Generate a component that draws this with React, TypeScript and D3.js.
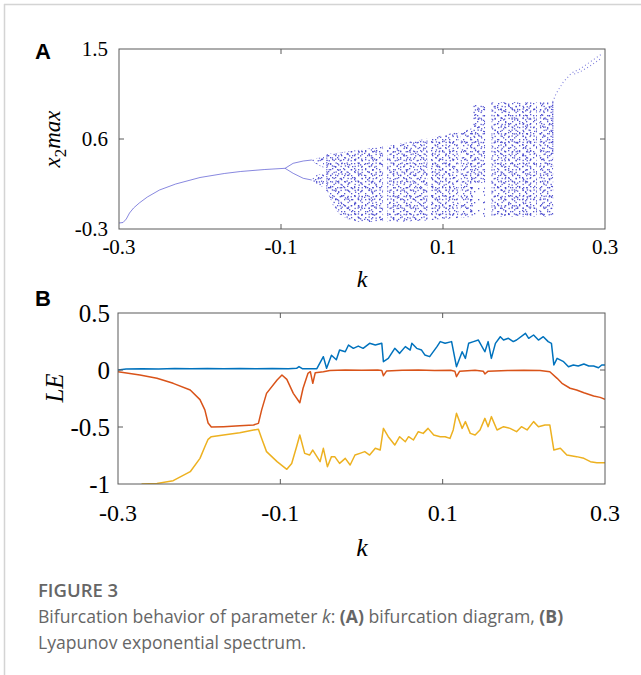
import React from "react";
import * as d3 from "d3";

// axis ticks
const kTicks = [-0.3, -0.1, 0.1, 0.3];
const x2Ticks = [-0.3, 0.6, 1.5];
const leTicks = [-1, -0.5, 0, 0.5];

// ---- panel A: bifurcation diagram ----
// single branch [k, x2max]
const period1 = [
  [-0.3, -0.24], [-0.295, -0.235], [-0.291, -0.2], [-0.287, -0.14], [-0.282, -0.09],
  [-0.275, -0.04], [-0.265, 0.02], [-0.25, 0.09], [-0.23, 0.15], [-0.2, 0.215],
  [-0.17, 0.255], [-0.15, 0.275], [-0.12, 0.295], [-0.095, 0.307],
];
// period-2 branches
const period2Up = [[-0.095, 0.307], [-0.085, 0.357], [-0.0725, 0.38], [-0.062, 0.39]];
const period2Lo = [[-0.095, 0.307], [-0.085, 0.257], [-0.0725, 0.207], [-0.062, 0.19]];
// sparse branch after the crisis, two strands
const tailA = [[0.2354, 0.97], [0.24, 1.06], [0.2486, 1.17], [0.2588, 1.26], [0.269, 1.3], [0.2815, 1.37], [0.296, 1.45]];
const tailB = [[0.262, 1.25], [0.269, 1.27], [0.2815, 1.33], [0.296, 1.41]];
// dense vertical edges of the chaotic bands
const edges = [
  [[-0.0435, 0.08], [-0.0435, 0.45]],
  [[0.2355, 0.45], [0.2355, 0.97]],
];

// chaotic bands [k, low, high]
const bandsSmall = [
  [[-0.062, 0.383, 0.397], [-0.056, 0.35, 0.41], [-0.047, 0.31, 0.42]],
  [[-0.062, 0.183, 0.197], [-0.056, 0.14, 0.24], [-0.047, 0.12, 0.26]],
];
const bandsChaos = [
  [[-0.043, 0.08, 0.45], [-0.036, -0.06, 0.455], [-0.028, -0.15, 0.465], [-0.018, -0.2, 0.475], [-0.005, -0.23, 0.49], [0.026, -0.23, 0.525]],
  [[0.031, -0.23, 0.53], [0.055, -0.225, 0.565], [0.081, -0.215, 0.605]],
  [[0.084, -0.21, 0.61], [0.119, -0.19, 0.67]],
  [[0.122, -0.185, 0.675], [0.137, -0.18, 0.71]],
  [[0.137, 0.16, 0.94], [0.152, 0.16, 0.94]],
  [[0.16, -0.18, 0.97], [0.216, -0.18, 0.97]],
  [[0.219, -0.18, 0.97], [0.236, -0.18, 0.97]],
];
const bandsSparse = [
  [[0.137, -0.18, 0.16], [0.152, -0.18, 0.16]],
];

// ---- panel B: Lyapunov exponents [k, LE] ----
const le1 = [
  [-0.3, 0.0], [-0.29, 0.008], [-0.27, 0.012], [-0.25, 0.009], [-0.23, 0.013], [-0.21, 0.01],
  [-0.19, 0.013], [-0.17, 0.01], [-0.15, 0.013], [-0.13, 0.01], [-0.11, 0.013], [-0.09, 0.012],
  [-0.08, 0.015], [-0.077, 0.03], [-0.073, 0.012], [-0.06, 0.012], [-0.055, 0.012], [-0.047, 0.117],
  [-0.043, 0.015], [-0.037, 0.13], [-0.031, 0.09], [-0.027, 0.175], [-0.02, 0.16], [-0.016, 0.219],
  [-0.01, 0.19], [-0.004, 0.21], [0.002, 0.19], [0.01, 0.234], [0.017, 0.219], [0.025, 0.234],
  [0.027, 0.073], [0.033, 0.102], [0.041, 0.19], [0.047, 0.146], [0.054, 0.205], [0.06, 0.175],
  [0.062, 0.234], [0.068, 0.19], [0.074, 0.175], [0.078, 0.132], [0.084, 0.117], [0.093, 0.205],
  [0.097, 0.249], [0.103, 0.234], [0.111, 0.249], [0.117, 0.029], [0.124, 0.16], [0.128, 0.102],
  [0.132, 0.234], [0.138, 0.249], [0.144, 0.263], [0.152, 0.16], [0.156, 0.249], [0.16, 0.102],
  [0.165, 0.234], [0.171, 0.292], [0.175, 0.263], [0.181, 0.278], [0.187, 0.249], [0.191, 0.263],
  [0.202, 0.322], [0.206, 0.278], [0.212, 0.307], [0.218, 0.263], [0.224, 0.292], [0.23, 0.249],
  [0.234, 0.234], [0.237, 0.044], [0.241, 0.102], [0.249, 0.073], [0.255, 0.029], [0.261, 0.044],
  [0.267, 0.035], [0.274, 0.053], [0.28, 0.035], [0.286, 0.035], [0.292, 0.02], [0.296, 0.044],
  [0.3, 0.044],
];
const le2 = [
  [-0.3, -0.015], [-0.273, -0.044], [-0.252, -0.073], [-0.232, -0.117], [-0.211, -0.175],
  [-0.199, -0.26], [-0.193, -0.35], [-0.189, -0.465], [-0.185, -0.5], [-0.17, -0.497],
  [-0.15, -0.49], [-0.133, -0.482], [-0.127, -0.468], [-0.123, -0.35], [-0.117, -0.205],
  [-0.104, -0.088], [-0.098, -0.044], [-0.092, -0.082], [-0.084, -0.205], [-0.076, -0.287],
  [-0.072, -0.16], [-0.066, -0.03], [-0.063, -0.015], [-0.06, -0.117], [-0.057, -0.024],
  [-0.047, -0.015], [-0.039, -0.005], [-0.02, 0.0], [0.0, -0.003], [0.02, 0.0], [0.025, -0.005],
  [0.027, -0.05], [0.031, -0.008], [0.05, -0.003], [0.07, 0.0], [0.09, -0.005], [0.11, -0.003],
  [0.115, -0.01], [0.117, -0.058], [0.121, -0.01], [0.14, -0.003], [0.15, -0.01], [0.152, -0.035],
  [0.156, -0.01], [0.18, -0.005], [0.2, -0.003], [0.22, -0.005], [0.232, -0.015], [0.241, -0.073],
  [0.247, -0.117], [0.257, -0.16], [0.265, -0.175], [0.274, -0.2], [0.286, -0.228], [0.294, -0.24],
  [0.3, -0.257],
];
const le3 = [
  [-0.271, -1.0], [-0.252, -0.995], [-0.232, -0.971], [-0.211, -0.892], [-0.199, -0.775],
  [-0.193, -0.673], [-0.189, -0.608], [-0.185, -0.585], [-0.17, -0.57], [-0.15, -0.55],
  [-0.133, -0.526], [-0.127, -0.52], [-0.123, -0.6], [-0.117, -0.716], [-0.104, -0.804],
  [-0.092, -0.871], [-0.086, -0.82], [-0.08, -0.673], [-0.076, -0.57], [-0.07, -0.731],
  [-0.064, -0.746], [-0.06, -0.702], [-0.051, -0.804], [-0.047, -0.687], [-0.042, -0.848],
  [-0.037, -0.76], [-0.033, -0.76], [-0.027, -0.819], [-0.02, -0.775], [-0.014, -0.833],
  [-0.008, -0.746], [-0.002, -0.731], [0.004, -0.716], [0.01, -0.746], [0.017, -0.687],
  [0.023, -0.702], [0.027, -0.512], [0.033, -0.585], [0.041, -0.658], [0.047, -0.585],
  [0.054, -0.629], [0.058, -0.585], [0.064, -0.614], [0.07, -0.541], [0.076, -0.556],
  [0.082, -0.512], [0.089, -0.57], [0.097, -0.585], [0.103, -0.585], [0.109, -0.6],
  [0.113, -0.526], [0.117, -0.38], [0.124, -0.512], [0.128, -0.453], [0.134, -0.556],
  [0.14, -0.57], [0.146, -0.526], [0.152, -0.424], [0.156, -0.497], [0.16, -0.409],
  [0.167, -0.526], [0.175, -0.497], [0.183, -0.512], [0.191, -0.541], [0.197, -0.497],
  [0.204, -0.526], [0.212, -0.453], [0.218, -0.497], [0.226, -0.482], [0.232, -0.482],
  [0.237, -0.702], [0.245, -0.687], [0.253, -0.746], [0.265, -0.76], [0.274, -0.775],
  [0.282, -0.804], [0.29, -0.813], [0.3, -0.813],
];

const serif = "'Liberation Serif', 'Times New Roman', serif";
const sans = "'Open Sans', 'Noto Sans', sans-serif";
const frameColor = "#5a5a5a";

// speckle textures: overlapping tiles of different periods so the dots look scattered
const speckTiles = [
  { id: "sp1", w: 7, h: 6, dots: [[1, 1], [4.5, 3.8]] },
  { id: "sp2", w: 11, h: 9, dots: [[2, 6], [8, 2.2], [5.5, 0.4], [9.6, 7.1]] },
  { id: "sp3", w: 13, h: 8, dots: [[3, 3], [10, 6.5], [6.8, 5.3]] },
  { id: "sp4", w: 17, h: 11, dots: [[1.5, 8.5], [12, 1], [7, 9.8], [15, 4.6]] },
];
const sparseTiles = [
  { id: "sq1", w: 9, h: 11, dots: [[1, 1], [6, 4]] },
  { id: "sq2", w: 13, h: 7, dots: [[3, 5.5]] },
];

function Frame({ x, y, xt, yt }: any) {
  const [x0, x1] = x.range();
  const [y0, y1] = y.range();
  const L = 5;
  return (
    <g stroke={frameColor} strokeWidth={1} fill="none">
      <rect x={x0} y={y1} width={x1 - x0} height={y0 - y1} />
      {xt.map((t: number) => (
        <g key={"x" + t}>
          <line x1={x(t)} x2={x(t)} y1={y0} y2={y0 - L} />
          <line x1={x(t)} x2={x(t)} y1={y1} y2={y1 + L} />
        </g>
      ))}
      {yt.map((t: number) => (
        <g key={"y" + t}>
          <line x1={x0} x2={x0 + L} y1={y(t)} y2={y(t)} />
          <line x1={x1} x2={x1 - L} y1={y(t)} y2={y(t)} />
        </g>
      ))}
    </g>
  );
}

export default function App() {
  const xA = d3.scaleLinear().domain([-0.3, 0.3]).range([119, 605]);
  const yA = d3.scaleLinear().domain([-0.3, 1.5]).range([229, 49]);
  const xB = d3.scaleLinear().domain([-0.3, 0.3]).range([118, 605]);
  const yB = d3.scaleLinear().domain([-1, 0.5]).range([484, 313]);

  const lineA = d3.line<number[]>().x((d) => xA(d[0])).y((d) => yA(d[1]));
  const areaA = d3
    .area<number[]>()
    .x((d) => xA(d[0]))
    .y0((d) => yA(d[1]))
    .y1((d) => yA(d[2]));
  const lineB = d3.line<number[]>().x((d) => xB(d[0])).y((d) => yB(d[1]));

  const blue = "#4444cc";

  return (
    <svg
      width={641}
      height={675}
      style={{ position: "absolute", left: 0, top: 0, background: "#fff" }}
    >
      <defs>
        {[...speckTiles, ...sparseTiles].map((t) => (
          <pattern key={t.id} id={t.id} width={t.w} height={t.h} patternUnits="userSpaceOnUse">
            {t.dots.map((p, i) => (
              <rect key={i} x={p[0]} y={p[1]} width={1.3} height={1.3} fill={blue} opacity={0.9} />
            ))}
          </pattern>
        ))}
        <clipPath id="clipB">
          <rect x={118} y={313} width={487} height={171} />
        </clipPath>
      </defs>

      {/* page frame */}
      <line x1={4} x2={641} y1={4.5} y2={4.5} stroke="#d4d4d4" strokeWidth={1.5} />
      <line x1={4.5} x2={4.5} y1={4} y2={675} stroke="#d4d4d4" strokeWidth={1.5} />

      {/* ---------- panel A ---------- */}
      <text x={35} y={59} fontFamily="'Liberation Sans', Arial, sans-serif" fontWeight="bold" fontSize={22}>A</text>
      <g>
        {[...bandsChaos, ...bandsSmall].map((b, i) =>
          speckTiles.map((t) => (
            <path key={"c" + i + t.id} d={areaA(b as any) || ""} fill={`url(#${t.id})`} />
          ))
        )}
        {bandsSparse.map((b, i) =>
          sparseTiles.map((t) => (
            <path key={"p" + i + t.id} d={areaA(b as any) || ""} fill={`url(#${t.id})`} />
          ))
        )}
        {[period1, period2Up, period2Lo].map((l, i) => (
          <path key={"l" + i} d={lineA(l as any) || ""} fill="none" stroke={blue} strokeWidth={0.8} opacity={0.8} />
        ))}
        {edges.map((l, i) => (
          <path key={"e" + i} d={lineA(l as any) || ""} fill="none" stroke={blue} strokeWidth={1.2} strokeDasharray="1.3 1" opacity={0.8} />
        ))}
        {[tailA, tailB].map((l, i) => (
          <path key={"t" + i} d={lineA(l as any) || ""} fill="none" stroke={blue} strokeWidth={1.1} strokeDasharray="1 2.6" opacity={0.7} />
        ))}
      </g>
      <Frame x={xA} y={yA} xt={[-0.1, 0.1]} yt={[0.6]} />
      {x2Ticks.map((t) => (
        <text key={t} x={108} y={yA(t) + 7} textAnchor="end" fontFamily={serif} fontSize={21}>
          {t.toFixed(1)}
        </text>
      ))}
      {kTicks.map((t) => (
        <text key={t} x={xA(t)} y={254} textAnchor="middle" fontFamily={serif} fontSize={21}>
          {t.toFixed(1)}
        </text>
      ))}
      <text x={362} y={287} textAnchor="middle" fontFamily={serif} fontStyle="italic" fontSize={24}>k</text>
      <text
        transform={`translate(60,139) rotate(-90)`}
        textAnchor="middle"
        fontFamily={serif}
        fontStyle="italic"
        fontSize={23}
      >
        x<tspan fontStyle="normal" fontSize={17} dy={6}>2</tspan>
        <tspan dy={-6}>max</tspan>
      </text>

      {/* ---------- panel B ---------- */}
      <text x={35} y={306} fontFamily="'Liberation Sans', Arial, sans-serif" fontWeight="bold" fontSize={22}>B</text>
      <g clipPath="url(#clipB)" fill="none" strokeWidth={1.5} strokeLinejoin="round">
        <path d={lineB(le1 as any) || ""} stroke="#0072BD" />
        <path d={lineB(le2 as any) || ""} stroke="#D95319" />
        <path d={lineB(le3 as any) || ""} stroke="#EDB120" />
      </g>
      <Frame x={xB} y={yB} xt={[-0.1, 0.1]} yt={[0, -0.5]} />
      {leTicks.map((t) => (
        <text key={t} x={110} y={yB(t) + 8.5} textAnchor="end" fontFamily={serif} fontSize={25}>
          {String(t)}
        </text>
      ))}
      {kTicks.map((t) => (
        <text key={t} x={xB(t)} y={521} textAnchor="middle" fontFamily={serif} fontSize={24}>
          {t.toFixed(1)}
        </text>
      ))}
      <text x={362} y={556} textAnchor="middle" fontFamily={serif} fontStyle="italic" fontSize={26}>k</text>
      <text
        transform={`translate(63,388) rotate(-90)`}
        textAnchor="middle"
        fontFamily={serif}
        fontStyle="italic"
        fontSize={25}
      >
        LE
      </text>

      {/* ---------- caption ---------- */}
      <text x={38} y={597} fontFamily={sans} fontWeight={600} fontSize={18.5} fill="#666">FIGURE 3</text>
      <text x={38} y={623} fontFamily={sans} fontSize={17.6} fill="#666">
        Bifurcation behavior of parameter <tspan fontStyle="italic">k</tspan>: <tspan fontWeight="bold">(A)</tspan> bifurcation diagram, <tspan fontWeight="bold">(B)</tspan>
      </text>
      <text x={38} y={649} fontFamily={sans} fontSize={17.6} fill="#666">
        Lyapunov exponential spectrum.
      </text>
    </svg>
  );
}
